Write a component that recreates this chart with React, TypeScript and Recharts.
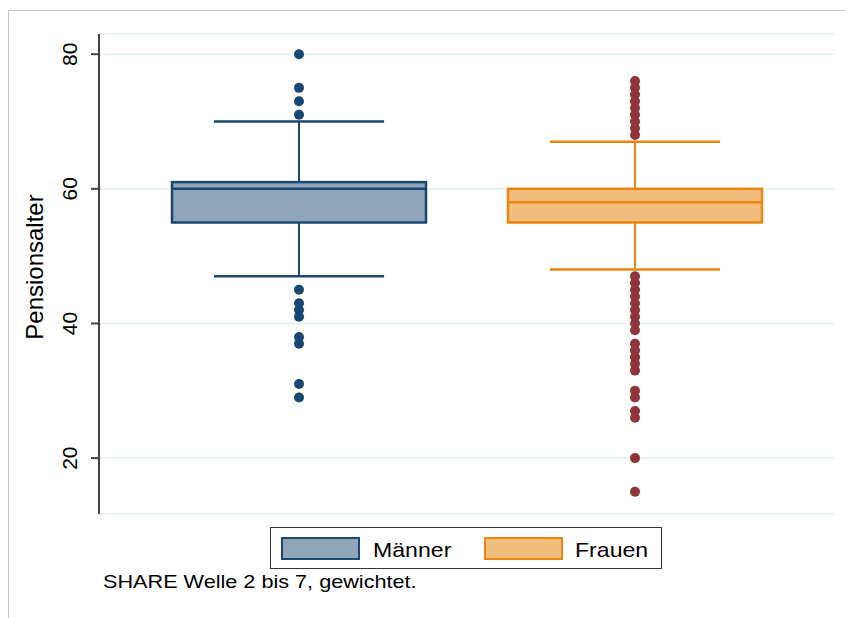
import { ComposedChart, Bar, Scatter, XAxis, YAxis, CartesianGrid } from "recharts";

// Kategorien und Boxplot-Kennwerte
const groups = ["Männer", "Frauen"];
const whiskerLow = [47, 48];
const q1 = [55, 55];
const median = [60, 58];
const q3 = [61, 60];
const whiskerHigh = [70, 67];

// Ausreißer
const outliersMen = [80, 75, 73, 71, 45, 43, 42, 41, 38, 37, 31, 29];
const outliersWomen = [
  76, 75, 74, 73, 72, 71, 70, 69, 68,
  47, 46, 45, 44, 43, 42, 41, 40, 39,
  37, 36, 35, 34, 33, 30, 29, 27, 26, 20, 15,
];

const yTicks = [20, 40, 60, 80];

const strokeColors = ["#1a476f", "#e8860f"];
const fillColors = ["#8ea5ba", "#f2be7d"];
const dotColors = ["#1a476f", "#90353b"];

const data = groups.map((g, i) => ({
  name: g,
  range: [whiskerLow[i], whiskerHigh[i]],
  idx: i,
}));

const menDots = outliersMen.map((v) => ({ name: groups[0], v }));
const womenDots = outliersWomen.map((v) => ({ name: groups[1], v }));

const font = "'Liberation Sans', Arial, sans-serif";

function BoxShape(props: any) {
  const { x, y, width, height, payload } = props;
  const i = payload.idx;
  const lo = whiskerLow[i];
  const hi = whiskerHigh[i];
  const toY = (v: number) => y + ((hi - v) / (hi - lo)) * height;
  const cx = x + width / 2;
  const boxW = width;
  const capW = width * 0.67;
  const stroke = strokeColors[i];
  const yq1 = toY(q1[i]);
  const yq3 = toY(q3[i]);
  const ym = toY(median[i]);
  return (
    <g>
      <line x1={cx} x2={cx} y1={toY(hi)} y2={yq3} stroke={stroke} strokeWidth={2} />
      <line x1={cx} x2={cx} y1={yq1} y2={toY(lo)} stroke={stroke} strokeWidth={2} />
      <line x1={cx - capW / 2} x2={cx + capW / 2} y1={toY(hi)} y2={toY(hi)} stroke={stroke} strokeWidth={2.5} />
      <line x1={cx - capW / 2} x2={cx + capW / 2} y1={toY(lo)} y2={toY(lo)} stroke={stroke} strokeWidth={2.5} />
      <rect
        x={cx - boxW / 2}
        y={yq3}
        width={boxW}
        height={yq1 - yq3}
        fill={fillColors[i]}
        stroke={stroke}
        strokeWidth={2.5}
      />
      <line x1={cx - boxW / 2} x2={cx + boxW / 2} y1={ym} y2={ym} stroke={stroke} strokeWidth={2.5} />
    </g>
  );
}

const Dot = (color: string) => (props: any) => (
  <circle cx={props.cx} cy={props.cy} r={5} fill={color} />
);

function YTick(props: any) {
  const { x, y, payload } = props;
  const bx = x - 12;
  return (
    <text
      x={bx}
      y={y}
      transform={`rotate(-90 ${bx} ${y})`}
      textAnchor="middle"
      fontSize={21}
      fontFamily={font}
      fill="#000"
    >
      {payload.value}
    </text>
  );
}

function YLabel(props: any) {
  const { viewBox } = props;
  const bx = 43;
  const cy = viewBox.y + viewBox.height / 2 - 7;
  return (
    <text
      x={bx}
      y={cy}
      transform={`rotate(-90 ${bx} ${cy})`}
      textAnchor="middle"
      fontSize={24}
      fontFamily={font}
      fill="#000"
    >
      Pensionsalter
    </text>
  );
}

export default function App() {
  return (
    <div
      style={{
        position: "absolute",
        left: 0,
        top: 0,
        width: 845,
        height: 618,
        background: "#fff",
        fontFamily: font,
      }}
    >
      <div
        style={{
          position: "absolute",
          left: 8,
          top: 10,
          right: 0,
          bottom: 0,
          borderTop: "1px solid #c8c8c8",
          borderLeft: "1px solid #c8c8c8",
        }}
      />
      <ComposedChart
        width={845}
        height={618}
        data={data}
        margin={{ top: 34, right: 10, bottom: 104, left: 9 }}
        style={{ position: "absolute", left: 0, top: 0 }}
      >
        <CartesianGrid vertical={false} stroke="#eaf2f3" strokeWidth={2} />
        <XAxis
          dataKey="name"
          type="category"
          allowDuplicatedCategory={false}
          padding={{ left: 32, right: 32 }}
          tick={false}
          tickLine={false}
          axisLine={{ stroke: "#444", strokeWidth: 2 }}
          height={0}
        />
        <YAxis
          type="number"
          domain={[11.7, 83]}
          ticks={yTicks}
          width={90}
          tickSize={8}
          tickLine={{ stroke: "#444", strokeWidth: 2 }}
          axisLine={{ stroke: "#444", strokeWidth: 2 }}
          tick={<YTick />}
          label={<YLabel />}
          allowDataOverflow
        />
        <Bar dataKey="range" barSize={254} shape={<BoxShape />} isAnimationActive={false} />
        <Scatter data={menDots} dataKey="v" shape={Dot(dotColors[0])} isAnimationActive={false} />
        <Scatter data={womenDots} dataKey="v" shape={Dot(dotColors[1])} isAnimationActive={false} />
      </ComposedChart>
      <div
        style={{
          position: "absolute",
          left: 270,
          top: 527,
          width: 392,
          height: 42,
          border: "1.5px solid #333",
          boxSizing: "border-box",
        }}
      />
      {groups.map((g, i) => (
        <div key={g}>
          <div
            style={{
              position: "absolute",
              left: i === 0 ? 281 : 484,
              top: 537,
              width: 79,
              height: 23,
              boxSizing: "border-box",
              background: fillColors[i],
              border: `2.5px solid ${strokeColors[i]}`,
            }}
          />
          <div
            style={{
              position: "absolute",
              left: i === 0 ? 373 : 575,
              top: 538,
              fontSize: 21,
              lineHeight: "normal",
              color: "#000",
              transform: "scaleX(1.1)",
              transformOrigin: "left",
              whiteSpace: "nowrap",
            }}
          >
            {g}
          </div>
        </div>
      ))}
      <div
        style={{
          position: "absolute",
          left: 103,
          top: 571,
          fontSize: 18.5,
          lineHeight: "normal",
          color: "#000",
          transform: "scaleX(1.17)",
          transformOrigin: "left",
          whiteSpace: "nowrap",
        }}
      >
        SHARE Welle 2 bis 7, gewichtet.
      </div>
    </div>
  );
}
